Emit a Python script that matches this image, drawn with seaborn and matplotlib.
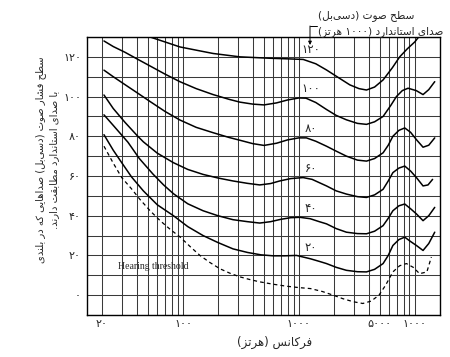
import re
import matplotlib
matplotlib.use("Agg")
import matplotlib.pyplot as plt
import seaborn as sns
from matplotlib.ticker import FixedLocator, FixedFormatter, NullFormatter
from matplotlib.lines import Line2D

# equal loudness contours (Hz, dB)
levels = [120, 100, 80, 60, 40, 20]
level_labels = ["۱۲۰", "۱۰۰", "۸۰", "۶۰", "۴۰", "۲۰"]

freq_120 = [52, 70, 94, 140, 182, 310, 560, 800, 1090, 1400, 1730, 2200, 2750, 3300, 3830, 4500, 5330, 6400, 7410, 8600, 9990, 10800]
spl_120 = [130, 127.5, 125, 123, 121.7, 120, 119.3, 119, 118.7, 116.5, 113.4, 109.5, 105.9, 104, 103.3, 104.8, 108.4, 114.5, 120, 124, 127.5, 130]

freq_100 = [20.8, 25, 31.6, 40, 52, 70, 94, 130, 182, 250, 310, 400, 500, 640, 800, 1000, 1150, 1400, 1730, 2100, 2570, 3200, 3830, 4500, 5330, 6200, 6940, 7800, 8750, 10300, 11780, 13200, 14860]
spl_100 = [128, 125.2, 122.3, 119, 115.4, 111.3, 107.5, 104, 101, 98.6, 97.2, 96.2, 95.8, 96.8, 98.3, 99.3, 99.2, 97, 93.5, 90.5, 88.3, 86.5, 86, 87.3, 90, 95.5, 100, 103, 104.2, 103, 101, 103.5, 107.5]

freq_80 = [20.8, 25, 31.6, 40, 52, 70, 94, 130, 182, 250, 310, 400, 500, 641, 800, 1000, 1160, 1400, 1730, 2100, 2570, 3200, 3830, 4500, 5330, 5900, 6470, 7300, 8190, 9200, 10330, 11780, 13200, 14860]
spl_80 = [113.3, 110, 106, 102, 97.5, 92.5, 88.2, 84.5, 81.8, 79.4, 78, 76.3, 75.4, 76.5, 78.2, 79.2, 79.2, 77.5, 75, 72.5, 70, 68, 67.5, 68.8, 71.7, 75.5, 80, 83, 84.2, 82, 78.3, 74.5, 75.5, 79.2]

freq_60 = [20.8, 25, 31.6, 40, 45.5, 60, 82.7, 110, 149, 200, 270, 360, 459, 570, 683, 850, 1088, 1300, 1730, 2100, 2570, 3200, 3830, 4500, 5325, 5900, 6470, 7300, 8190, 9200, 10330, 11780, 13000, 14240]
spl_60 = [100.8, 94, 87, 80.5, 77.2, 71.5, 66.7, 63.3, 60.8, 59, 57.5, 56.3, 55.5, 56.2, 57.5, 58.7, 59.2, 58.3, 55, 52.5, 50.9, 49.6, 49.2, 50.5, 53.3, 57.5, 61.7, 64, 65, 62.5, 59.2, 55, 55.5, 58.3]

freq_40 = [20.8, 25, 33.5, 42, 55, 68, 83, 110, 149, 200, 270, 360, 459, 570, 700, 850, 1019, 1250, 1500, 1730, 2100, 2570, 3200, 3830, 4500, 5325, 5900, 6470, 7300, 8190, 9200, 10330, 11780, 13200, 14860]
spl_40 = [90.8, 85.5, 77, 68.8, 61, 55.5, 51, 46, 42.5, 40, 38, 37, 36.3, 37, 38.2, 39, 39.2, 38.5, 37, 35.9, 33.5, 31.7, 31, 30.9, 32.2, 35, 38.7, 42.5, 45, 45.9, 43.5, 40.9, 37.5, 40, 44.2]

freq_20 = [20.8, 25, 29.6, 36, 45.5, 60, 82.7, 110, 149, 200, 270, 360, 470, 600, 750, 953, 1260, 1500, 1730, 2100, 2570, 3200, 3828, 4500, 5325, 5900, 6470, 7300, 8190, 9200, 10330, 11780, 13200, 14860]
spl_20 = [80.8, 73, 66.7, 59.5, 52.5, 45.5, 40, 34.5, 30, 26.5, 23.3, 21.5, 20.3, 19.8, 19.8, 20, 18.3, 17, 15.9, 14, 12.5, 11.8, 11.7, 13, 15.9, 20, 25, 28, 29.2, 27, 25, 22.5, 26, 31.7]

freq_thr = [20.8, 25, 29.6, 36, 42.4, 52, 63.5, 78, 94.7, 115, 140, 170, 208, 255, 310, 380, 459, 600, 782, 1000, 1260, 1600, 1972, 2400, 2936, 3560, 4200, 4910, 5600, 6470, 7400, 8470, 9700, 11000, 12710, 13900]
spl_thr = [75, 66.5, 59.2, 53.5, 48.3, 42.5, 37.5, 33, 29.2, 24.5, 20, 16.5, 13.3, 11, 9.2, 7.8, 6.7, 5.5, 4.5, 3.8, 3.3, 1.8, 0, -1.8, -3.3, -4.2, -3, 0, 5, 11.7, 14.8, 15.9, 14, 10.8, 11.7, 19.2]

x_tick_vals = [20, 100, 1000, 5000, 10000]
x_tick_labels = ["۲۰", "۱۰۰", "۱۰۰۰", "۵۰۰۰", "۱۰۰۰"]
y_tick_vals = [0, 20, 40, 60, 80, 100, 120]
y_tick_labels = ["۰", "۲۰", "۴۰", "۶۰", "۸۰", "۱۰۰", "۱۲۰"]

title_lines = ["سطح صوت (دسی\u200cبل)", "صدای استاندارد (۱۰۰۰ هرتز)"]
ylabel_lines = ["سطح فشار صوت (دسی\u200cبل) صداهایی که در بلندی", "با صدای استاندارد مطابقت دارند."]
xlabel_text = "فرکانس (هرتز)"

# presentation forms: isolated, final, initial, medial (None = right-joining only)
FORMS = {
    'ا': ('\uFE8D', '\uFE8E', None, None),
    'ب': ('\uFE8F', '\uFE90', '\uFE91', '\uFE92'),
    'ت': ('\uFE95', '\uFE96', '\uFE97', '\uFE98'),
    'ح': ('\uFEA1', '\uFEA2', '\uFEA3', '\uFEA4'),
    'د': ('\uFEA9', '\uFEAA', None, None),
    'ر': ('\uFEAD', '\uFEAE', None, None),
    'ز': ('\uFEAF', '\uFEB0', None, None),
    'س': ('\uFEB1', '\uFEB2', '\uFEB3', '\uFEB4'),
    'ش': ('\uFEB5', '\uFEB6', '\uFEB7', '\uFEB8'),
    'ص': ('\uFEB9', '\uFEBA', '\uFEBB', '\uFEBC'),
    'ط': ('\uFEC1', '\uFEC2', '\uFEC3', '\uFEC4'),
    'ف': ('\uFED1', '\uFED2', '\uFED3', '\uFED4'),
    'ق': ('\uFED5', '\uFED6', '\uFED7', '\uFED8'),
    'ل': ('\uFEDD', '\uFEDE', '\uFEDF', '\uFEE0'),
    'م': ('\uFEE1', '\uFEE2', '\uFEE3', '\uFEE4'),
    'ن': ('\uFEE5', '\uFEE6', '\uFEE7', '\uFEE8'),
    'ه': ('\uFEE9', '\uFEEA', '\uFEEB', '\uFEEC'),
    'و': ('\uFEED', '\uFEEE', None, None),
    'ک': ('\uFB8E', '\uFB8F', '\uFB90', '\uFB91'),
    'ی': ('\uFBFC', '\uFBFD', '\uFBFE', '\uFBFF'),
}


def fa(text):
    # crude shaping + right-to-left ordering, matplotlib has no bidi support
    out = []
    for i, c in enumerate(text):
        if c not in FORMS:
            out.append(c)
            continue
        prev = text[i - 1] if i > 0 else None
        nxt = text[i + 1] if i + 1 < len(text) else None
        jp = prev in FORMS and FORMS[prev][2] is not None
        jn = FORMS[c][2] is not None and nxt in FORMS
        if jp and jn:
            out.append(FORMS[c][3])
        elif jp:
            out.append(FORMS[c][1])
        elif jn:
            out.append(FORMS[c][2])
        else:
            out.append(FORMS[c][0])
    out = [c for c in out if c != '\u200c'][::-1]
    out = ''.join({'(': ')', ')': '('}.get(c, c) for c in out)
    return re.sub(r'[0-9\u06F0-\u06F9]+', lambda m: m.group(0)[::-1], out)


def main():
    sns.set_style("white")
    plt.rcParams['font.family'] = ['DejaVu Sans']

    fig = plt.figure(figsize=(4.5, 3.57), dpi=100)
    ax = fig.add_axes([86.5 / 450, 1 - 315 / 357, (440 - 86.5) / 450, (315 - 37) / 357])

    curves = [(freq_120, spl_120), (freq_100, spl_100), (freq_80, spl_80),
              (freq_60, spl_60), (freq_40, spl_40), (freq_20, spl_20)]
    for f, s in curves:
        sns.lineplot(x=f, y=s, ax=ax, color='black', lw=1.1, sort=False)
    sns.lineplot(x=freq_thr, y=spl_thr, ax=ax, color='black', lw=0.9,
                 linestyle=(0, (3, 2.5)), sort=False)

    ax.set_xscale('log')
    ax.set_xlim(14.7, 16500)
    ax.set_ylim(-10, 130)

    grid_f = [d * 10 ** k for k in (1, 2, 3) for d in range(1, 10) if d * 10 ** k >= 20] + [10000]
    ax.xaxis.set_major_locator(FixedLocator(x_tick_vals))
    ax.xaxis.set_major_formatter(FixedFormatter(x_tick_labels))
    ax.xaxis.set_minor_locator(FixedLocator(grid_f))
    ax.xaxis.set_minor_formatter(NullFormatter())
    ax.yaxis.set_major_locator(FixedLocator(y_tick_vals))
    ax.yaxis.set_major_formatter(FixedFormatter(y_tick_labels))
    ax.yaxis.set_minor_locator(FixedLocator(list(range(-10, 131, 10))))
    ax.grid(True, which='both', color='#3a3a3a', lw=0.75)
    ax.tick_params(which='both', length=0)
    ax.tick_params(axis='x', pad=3, labelsize=8)
    ax.tick_params(axis='y', pad=4, labelsize=8)
    for sp in ax.spines.values():
        sp.set_color('black')
        sp.set_linewidth(1.0)

    for lv, lab in zip(levels, level_labels):
        ax.text(1270, lv + 0.6, lab, fontsize=8.5, ha='center', va='bottom')

    ax.annotate("Hearing threshold", xy=(138, 18), xytext=(27.5, 14.5),
                fontsize=7, family='Liberation Serif', va='center', ha='left',
                arrowprops=dict(arrowstyle='->', lw=0.6, shrinkA=1, shrinkB=0))

    fig.text(318 / 450, 1 - 16 / 357, fa(title_lines[0]), fontsize=7.6, ha='left', va='center')
    fig.text(318 / 450, 1 - 32 / 357, fa(title_lines[1]), fontsize=7.6, ha='left', va='center')
    fig.add_artist(Line2D([317 / 450, 310 / 450], [1 - 26 / 357, 1 - 26 / 357],
                          transform=fig.transFigure, color='black', lw=0.7))
    ax.annotate('', xy=(310, 357 - 45), xytext=(310, 357 - 26), xycoords='figure pixels',
                textcoords='figure pixels',
                arrowprops=dict(arrowstyle='-|>', lw=0.7, color='black', mutation_scale=5,
                                shrinkA=0, shrinkB=0))

    fig.text(47 / 450, 1 - 160 / 357, '\n'.join(fa(t) for t in ylabel_lines), rotation=90,
             fontsize=7.2, ha='center', va='center', multialignment='center', linespacing=1.4)
    fig.text(275 / 450, 1 - 342 / 357, fa(xlabel_text), fontsize=8.5, ha='center', va='center')

    fig.savefig("out.png", dpi=100, facecolor='white')
    plt.close(fig)


if __name__ == "__main__":
    main()
